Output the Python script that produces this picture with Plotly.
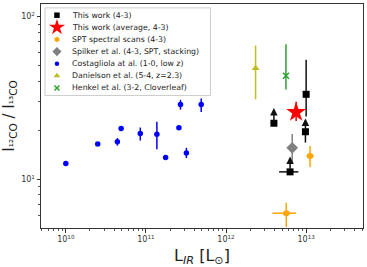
import numpy as np
import plotly.graph_objects as go

# ---------------- data ----------------
# Costagliola et al. (1-0, low z)
costa_x = [1.0e10, 2.5e10, 4.4e10, 4.9e10, 8.5e10, 1.37e11, 1.76e11, 2.58e11, 2.7e11, 3.2e11, 4.9e11]
costa_y = [12.5, 16.5, 17.0, 20.5, 19.1, 18.9, 13.6, 20.7, 28.8, 14.5, 28.8]
costa_eup = [0, 0, 0.9, 0, 1.7, 3.7, 0, 0, 2.0, 1.1, 2.6]
costa_edn = [0, 0, 0.9, 0, 1.8, 3.6, 0, 0, 2.0, 1.0, 2.9]

# This work (4-3)
tw_x = [3.96e12, 1.0e13, 9.8e12, 6.3e12]
tw_y = [22.1, 33.3, 19.6, 11.1]
tw_eup = [0, 21.0, 0, 0]
tw_edn = [0, 9.0, 2.8, 0]
tw_xlo = [0, 0.6e12, 0, 1.7e12]
tw_xhi = [0, 0.9e12, 0, 1.7e12]
tw_limtop = [27.4, None, 23.6, 13.8]   # lower limits (arrows)

# This work (average, 4-3)
avg_x = [7.5e12]
avg_y = [25.8]
avg_eup = [4.2]
avg_edn = [3.0]

# SPT spectral scans (4-3)
spt_x = [1.12e13, 5.65e12]
spt_y = [13.9, 6.18]
spt_eup = [2.1, 1.0]
spt_edn = [2.0, 1.1]
spt_xlo = [1.08e12, 1.85e12]
spt_xhi = [1.19e12, 1.85e12]

# Spilker et al.
spk_x = [6.7e12]
spk_y = [15.6]
spk_eup = [3.4]
spk_edn = [3.0]

# Danielson et al.
dan_x = [2.34e12]
dan_y = [48.1]
dan_eup = [18.3]
dan_edn = [17.1]

# Henkel et al.
hen_x = [5.6e12]
hen_y = [43.3]
hen_eup = [24.4]
hen_edn = [7.6]

legend_labels = [
    "This work (4-3)",
    "This work (average, 4-3)",
    "SPT spectral scans (4-3)",
    "Spilker et al. (4-3, SPT, stacking)",
    "Costagliola at al. (1-0, low z)",
    "Danielson et al. (5-4, z=2.3)",
    "Henkel et al. (3-2, Cloverleaf)",
]

x_tickvals = [1e10, 1e11, 1e12, 1e13]
x_ticktext = ["10<sup>10</sup>", "10<sup>11</sup>", "10<sup>12</sup>", "10<sup>13</sup>"]
y_tickvals = [10, 100]
y_ticktext = ["10<sup>1</sup>", "10<sup>2</sup>"]

# ---------------- styles ----------------
BLACK = "#000000"
RED = "#ff0000"
ORANGE = "#ffa500"
GREY = "#808080"
BLUE = "#0000ff"
OLIVE = "#bcbd22"
GREEN = "#2ca02c"
FONT = "DejaVu Sans"

styles = [
    dict(symbol="square", size=7, color=BLACK),
    dict(symbol="star", size=15, color=RED),
    dict(symbol="hexagon", size=7, color=ORANGE),
    dict(symbol="diamond", size=9, color=GREY),
    dict(symbol="circle", size=5.5, color=BLUE),
    dict(symbol="triangle-up", size=7, color=OLIVE),
    dict(symbol="x-thin-open", size=6, color=GREEN, line=dict(width=1.5, color=GREEN)),
]


def eb(arr_up, arr_dn, color):
    return dict(type="data", array=arr_up, arrayminus=arr_dn, width=0, thickness=1.5, color=color, symmetric=False)


fig = go.Figure()

# Costagliola
fig.add_trace(go.Scatter(x=costa_x, y=costa_y, mode="markers", marker=styles[4],
                         error_y=eb(costa_eup, costa_edn, BLUE), showlegend=False))
# Danielson
fig.add_trace(go.Scatter(x=dan_x, y=dan_y, mode="markers", marker=styles[5],
                         error_y=eb(dan_eup, dan_edn, OLIVE), showlegend=False))
# Henkel
fig.add_trace(go.Scatter(x=hen_x, y=hen_y, mode="markers", marker=styles[6],
                         error_y=eb(hen_eup, hen_edn, GREEN), showlegend=False))
# Spilker
fig.add_trace(go.Scatter(x=spk_x, y=spk_y, mode="markers", marker=styles[3],
                         error_y=eb(spk_eup, spk_edn, GREY), showlegend=False))
# SPT
fig.add_trace(go.Scatter(x=spt_x, y=spt_y, mode="markers", marker=styles[2],
                         error_y=eb(spt_eup, spt_edn, ORANGE),
                         error_x=eb(spt_xhi, spt_xlo, ORANGE), showlegend=False))
# This work
fig.add_trace(go.Scatter(x=tw_x, y=tw_y, mode="markers", marker=styles[0],
                         error_y=eb(tw_eup, tw_edn, "#111111"),
                         error_x=eb(tw_xhi, tw_xlo, "#111111"), showlegend=False))
# average
fig.add_trace(go.Scatter(x=avg_x, y=avg_y, mode="markers", marker=styles[1],
                         error_y=eb(avg_eup, avg_edn, RED), showlegend=False))

# lower-limit arrows
annotations = []
for xv, yv, top in zip(tw_x, tw_y, tw_limtop):
    if top is None:
        continue
    annotations.append(dict(
        x=np.log10(xv), y=np.log10(top), ax=np.log10(xv), ay=np.log10(yv),
        xref="x", yref="y", axref="x", ayref="y", text="", showarrow=True,
        arrowhead=2, arrowsize=1, arrowwidth=1.5, arrowcolor="#111111",
        standoff=0, startstandoff=0))

# ---------------- manual legend ----------------
W, H = 367, 267
ML, MR, MT, MB = 41, 3, 3, 34
pw = W - ML - MR
ph = H - MT - MB


def px2paper_x(px):
    return (px - ML) / pw


def py2paper_y(py):
    return (H - MB - py) / ph


shapes = [dict(type="rect", xref="paper", yref="paper",
               x0=px2paper_x(45), x1=px2paper_x(211),
               y0=py2paper_y(97), y1=py2paper_y(7),
               line=dict(color="#cccccc", width=1), fillcolor="rgba(255,255,255,0.85)",
               layer="below")]

row_y = [py2paper_y(14.5 + 12.45 * i) for i in range(len(legend_labels))]
leg_sizes = [5.5, 12, 5.5, 7, 4.5, 6, 5]
for i, (lab, st) in enumerate(zip(legend_labels, styles)):
    m = dict(st)
    m["size"] = leg_sizes[i]
    fig.add_trace(go.Scatter(x=[px2paper_x(57)], y=[row_y[i]], mode="markers", marker=m,
                             xaxis="x2", yaxis="y2", showlegend=False, cliponaxis=False))
    annotations.append(dict(x=px2paper_x(70.5), y=row_y[i], xref="paper", yref="paper",
                            text=lab, showarrow=False, xanchor="left", yanchor="middle",
                            font=dict(family=FONT, size=7.8, color="#222222")))

fig.update_layout(
    width=W, height=H, autosize=False,
    margin=dict(l=ML, r=MR, t=MT, b=MB, pad=0),
    paper_bgcolor="white", plot_bgcolor="white",
    font=dict(family=FONT, color="#222222"),
    showlegend=False,
    shapes=shapes,
    annotations=annotations,
    xaxis=dict(type="log", range=[9.69, 13.71], showgrid=False, zeroline=False,
               showline=True, linecolor="#333333", linewidth=1, mirror=True,
               ticks="outside", ticklen=3.5, tickwidth=1, tickcolor="#333333",
               tickvals=x_tickvals, ticktext=x_ticktext,
               tickfont=dict(family=FONT, size=8, color="#333333"),
               minor=dict(ticks="outside", ticklen=2, tickcolor="#555555", dtick="D1", showgrid=False),
               title=dict(text="L<sub><i>IR</i></sub> [L<sub>⊙</sub>]", font=dict(family=FONT, size=16, color="#222222"), standoff=9)),
    yaxis=dict(type="log", range=[0.70, 2.078], showgrid=False, zeroline=False,
               showline=True, linecolor="#333333", linewidth=1, mirror=True,
               ticks="outside", ticklen=3.5, tickwidth=1, tickcolor="#333333",
               tickvals=y_tickvals, ticktext=y_ticktext,
               tickfont=dict(family=FONT, size=8, color="#333333"),
               minor=dict(ticks="outside", ticklen=2, tickcolor="#555555", dtick="D1", showgrid=False),
               title=dict(text="I<sub>¹²CO</sub> / I<sub>¹³CO</sub>", font=dict(family=FONT, size=15, color="#222222"), standoff=7)),
    xaxis2=dict(overlaying="x", range=[0, 1], visible=False, anchor="y2", fixedrange=True),
    yaxis2=dict(overlaying="y", range=[0, 1], visible=False, anchor="x2", fixedrange=True),
)

fig.write_html("out.html")
